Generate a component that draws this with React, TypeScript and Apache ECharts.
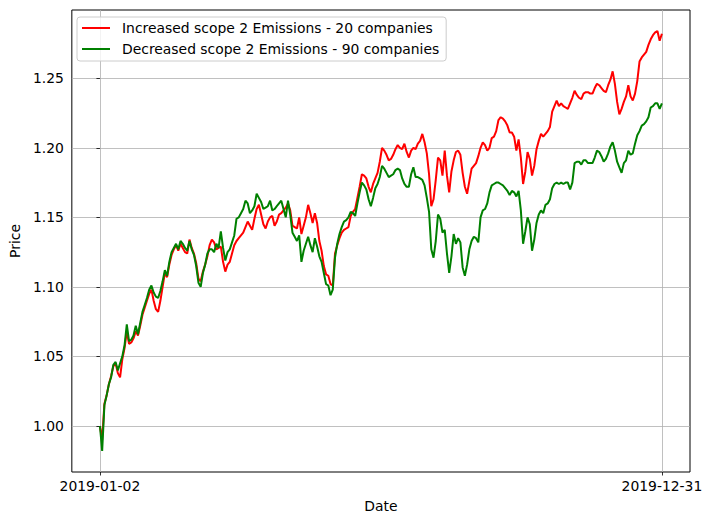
import React, { useEffect, useRef } from "react";
import * as echarts from "echarts";

const HOLIDAYS = [
  "2019-01-01", "2019-01-21", "2019-02-18", "2019-04-19", "2019-05-27",
  "2019-07-04", "2019-09-02", "2019-11-28", "2019-12-25",
];

function tradingDays(): string[] {
  const out: string[] = [];
  const d = new Date(Date.UTC(2019, 0, 1));
  while (d.getUTCFullYear() === 2019) {
    const wd = d.getUTCDay();
    const s = d.toISOString().slice(0, 10);
    if (wd !== 0 && wd !== 6 && !HOLIDAYS.includes(s)) out.push(s);
    d.setUTCDate(d.getUTCDate() + 1);
  }
  return out;
}

const DATES = tradingDays();

const INCREASED = [
  1.000, 0.990, 1.016, 1.022, 1.030, 1.036, 1.043, 1.045, 1.038, 1.035,
  1.048, 1.056, 1.068, 1.059, 1.060, 1.063, 1.068, 1.065, 1.072, 1.080,
  1.085, 1.090, 1.095, 1.098, 1.090, 1.084, 1.082, 1.090, 1.100, 1.110,
  1.107, 1.116, 1.123, 1.127, 1.130, 1.126, 1.131, 1.128, 1.125, 1.124,
  1.134, 1.128, 1.124, 1.117, 1.106, 1.104, 1.111, 1.116, 1.122, 1.130,
  1.134, 1.132, 1.127, 1.128, 1.129, 1.118, 1.111, 1.116, 1.118, 1.124,
  1.130, 1.133, 1.135, 1.137, 1.139, 1.143, 1.147, 1.144, 1.141, 1.149,
  1.156, 1.159, 1.152, 1.145, 1.142, 1.147, 1.150, 1.151, 1.144, 1.147,
  1.152, 1.153, 1.155, 1.157, 1.160, 1.155, 1.144, 1.143, 1.142, 1.150,
  1.138, 1.144, 1.150, 1.159, 1.153, 1.146, 1.153, 1.146, 1.133, 1.126,
  1.115, 1.109, 1.108, 1.102, 1.101, 1.124, 1.130, 1.135, 1.139, 1.141,
  1.142, 1.143, 1.151, 1.154, 1.156, 1.164, 1.172, 1.181, 1.180, 1.178,
  1.172, 1.168, 1.174, 1.178, 1.182, 1.190, 1.200, 1.198, 1.195, 1.191,
  1.192, 1.195, 1.199, 1.202, 1.200, 1.199, 1.203, 1.197, 1.193, 1.198,
  1.200, 1.199, 1.203, 1.205, 1.210, 1.204, 1.196, 1.181, 1.158, 1.163,
  1.177, 1.193, 1.191, 1.180, 1.198, 1.180, 1.168, 1.183, 1.191, 1.197,
  1.198, 1.195, 1.182, 1.172, 1.167, 1.176, 1.185, 1.187, 1.189, 1.194,
  1.200, 1.204, 1.202, 1.198, 1.200, 1.207, 1.208, 1.212, 1.220, 1.222,
  1.221, 1.219, 1.216, 1.211, 1.211, 1.208, 1.198, 1.206, 1.193, 1.174,
  1.183, 1.197, 1.192, 1.180, 1.187, 1.199, 1.205, 1.210, 1.208, 1.210,
  1.212, 1.215, 1.226, 1.230, 1.234, 1.230, 1.232, 1.230, 1.229, 1.228,
  1.232, 1.236, 1.241, 1.238, 1.236, 1.235, 1.239, 1.240, 1.240, 1.239,
  1.239, 1.243, 1.246, 1.245, 1.243, 1.241, 1.240, 1.245, 1.249, 1.255,
  1.246, 1.233, 1.224, 1.228, 1.233, 1.237, 1.245, 1.237, 1.234, 1.239,
  1.248, 1.262, 1.265, 1.267, 1.269, 1.274, 1.278, 1.281, 1.283, 1.284,
  1.277, 1.282,
];

const DECREASED = [
  1.000, 0.982, 1.015, 1.022, 1.030, 1.035, 1.044, 1.046, 1.040, 1.045,
  1.050, 1.058, 1.073, 1.061, 1.062, 1.065, 1.072, 1.066, 1.074, 1.082,
  1.087, 1.092, 1.098, 1.101, 1.096, 1.093, 1.092, 1.097, 1.104, 1.112,
  1.108, 1.118, 1.125, 1.128, 1.131, 1.127, 1.133, 1.131, 1.128, 1.126,
  1.133, 1.127, 1.123, 1.115, 1.103, 1.100, 1.110, 1.116, 1.124, 1.127,
  1.127, 1.125, 1.131, 1.128, 1.140, 1.128, 1.119, 1.125, 1.127, 1.132,
  1.137, 1.149, 1.150, 1.153, 1.156, 1.162, 1.160, 1.153, 1.155, 1.158,
  1.167, 1.164, 1.161, 1.156, 1.157, 1.158, 1.162, 1.155, 1.156, 1.158,
  1.160, 1.162, 1.156, 1.150, 1.162, 1.152, 1.139, 1.136, 1.133, 1.137,
  1.118, 1.126, 1.131, 1.136, 1.130, 1.125, 1.135, 1.129, 1.122, 1.118,
  1.110, 1.102, 1.101, 1.094, 1.098, 1.121, 1.131, 1.138, 1.143, 1.147,
  1.148, 1.150, 1.154, 1.153, 1.151, 1.160, 1.168, 1.175, 1.173, 1.170,
  1.163, 1.158, 1.164, 1.171, 1.174, 1.179, 1.187, 1.185, 1.182, 1.179,
  1.180, 1.181, 1.184, 1.185, 1.184, 1.178, 1.174, 1.172, 1.172, 1.181,
  1.186, 1.179, 1.179, 1.178, 1.177, 1.173, 1.164, 1.154, 1.127, 1.121,
  1.133, 1.152, 1.149, 1.139, 1.141, 1.124, 1.110, 1.122, 1.138, 1.131,
  1.135, 1.132, 1.114, 1.108, 1.116, 1.127, 1.133, 1.136, 1.135, 1.132,
  1.150, 1.155, 1.156, 1.160, 1.168, 1.173, 1.174, 1.175, 1.175, 1.174,
  1.173, 1.171, 1.169, 1.166, 1.169, 1.168, 1.165, 1.169, 1.155, 1.131,
  1.140, 1.150, 1.145, 1.126, 1.134, 1.146, 1.152, 1.155, 1.153, 1.159,
  1.160, 1.163, 1.171, 1.174, 1.175, 1.174, 1.175, 1.174, 1.175, 1.175,
  1.170, 1.175, 1.189, 1.190, 1.190, 1.188, 1.191, 1.191, 1.189, 1.189,
  1.189, 1.193, 1.198, 1.197, 1.194, 1.190, 1.192, 1.196, 1.201, 1.204,
  1.198, 1.190, 1.186, 1.182, 1.189, 1.191, 1.198, 1.195, 1.196, 1.203,
  1.209, 1.212, 1.216, 1.217, 1.219, 1.222, 1.229, 1.230, 1.232, 1.232,
  1.228, 1.232,
];

const Y_TICKS = [1.0, 1.05, 1.1, 1.15, 1.2, 1.25];
const SERIES_NAMES = [
  "Increased scope 2 Emissions - 20 companies",
  "Decreased scope 2 Emissions - 90 companies",
];

const FONT = "DejaVu Sans";
const LINE_ICON = "path://M0,0L28,0L28,2L0,2Z";

export default function App() {
  const ref = useRef<HTMLDivElement>(null);

  useEffect(() => {
    document.body.style.margin = "0";
    const chart = echarts.init(ref.current!, undefined, { renderer: "svg" });
    const n = DATES.length;
    const last = Math.min(n, INCREASED.length) - 1;
    const pad = last * 0.05;
    const allVals = INCREASED.concat(DECREASED);
    const yMin = Math.min(...allVals);
    const yMax = Math.max(...allVals);
    const yPad = (yMax - yMin) * 0.05;

    chart.setOption({
      animation: false,
      backgroundColor: "#ffffff",
      textStyle: { fontFamily: FONT },
      grid: {
        left: 70,
        right: 22,
        top: 10,
        bottom: 53,
        show: true,
        borderColor: "#000000",
        borderWidth: 1,
        backgroundColor: "#ffffff",
      },
      legend: {
        orient: "vertical",
        left: 77,
        top: 17,
        itemWidth: 28,
        itemHeight: 14,
        itemGap: 7,
        padding: [4, 7, 5, 5],
        backgroundColor: "rgba(255,255,255,0.8)",
        borderColor: "#cccccc",
        borderWidth: 1,
        borderRadius: 3,
        textStyle: {
          fontFamily: FONT,
          fontSize: 13.9,
          color: "#000000",
          padding: [0, 0, 0, 7],
        },
        data: [
          { name: SERIES_NAMES[0], icon: LINE_ICON, itemStyle: { color: "#ff0000" } },
          { name: SERIES_NAMES[1], icon: LINE_ICON, itemStyle: { color: "#008000" } },
        ],
      },
      xAxis: {
        type: "value",
        min: -pad,
        max: last + pad,
        name: "Date",
        nameLocation: "middle",
        nameGap: 27,
        nameTextStyle: { fontFamily: FONT, fontSize: 13.9, color: "#000000" },
        axisLine: { show: false },
        axisTick: {
          show: true,
          length: 3.5,
          lineStyle: { color: "#000000", width: 0.8 },
          customValues: [0, last],
        },
        axisLabel: {
          customValues: [0, last],
          margin: 7,
          fontFamily: FONT,
          fontSize: 13.9,
          color: "#000000",
          formatter: (v: number) => DATES[Math.round(v)] ?? "",
        },
        splitLine: { show: true, lineStyle: { color: "#b0b0b0", width: 0.8 } },
      },
      yAxis: {
        type: "value",
        min: yMin - yPad,
        max: yMax + yPad,
        name: "Price",
        nameLocation: "middle",
        nameGap: 47,
        nameTextStyle: { fontFamily: FONT, fontSize: 13.9, color: "#000000" },
        axisLine: { show: false },
        axisTick: {
          show: true,
          length: 3.5,
          lineStyle: { color: "#000000", width: 0.8 },
          customValues: Y_TICKS,
        },
        axisLabel: {
          customValues: Y_TICKS,
          margin: 8,
          fontFamily: FONT,
          fontSize: 13.9,
          color: "#000000",
          formatter: (v: number) => v.toFixed(2),
        },
        splitLine: { show: true, lineStyle: { color: "#b0b0b0", width: 0.8 } },
      },
      series: [
        {
          name: SERIES_NAMES[0],
          type: "line",
          symbol: "none",
          lineStyle: { color: "#ff0000", width: 2 },
          itemStyle: { color: "#ff0000" },
          data: INCREASED.map((v, i) => [i, v]),
        },
        {
          name: SERIES_NAMES[1],
          type: "line",
          symbol: "none",
          lineStyle: { color: "#008000", width: 2 },
          itemStyle: { color: "#008000" },
          data: DECREASED.map((v, i) => [i, v]),
        },
      ],
    });
    return () => chart.dispose();
  }, []);

  return <div ref={ref} style={{ width: 712, height: 525 }} />;
}
